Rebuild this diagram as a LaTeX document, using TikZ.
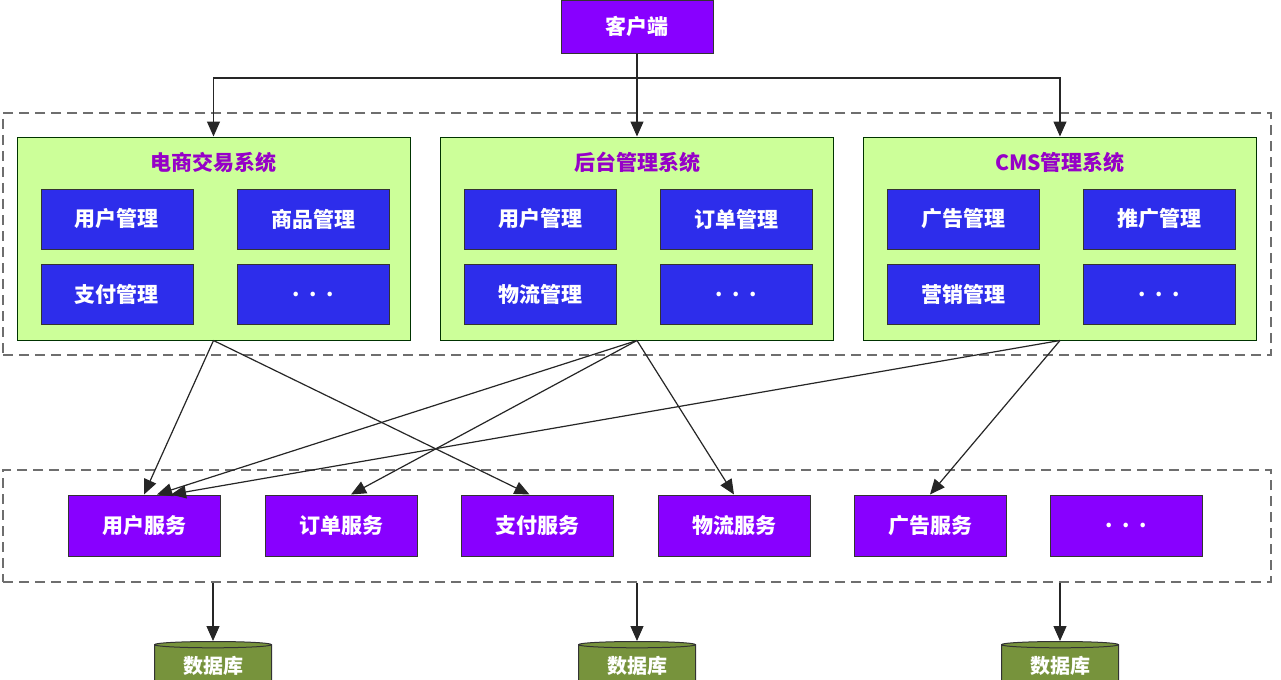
\documentclass[tikz,border=0pt]{standalone}
\usepackage{fontspec}
\setmainfont{Noto Sans CJK SC}
\usetikzlibrary{arrows.meta,shapes.geometric}
\definecolor{svcpurple}{RGB}{136,0,255}
\definecolor{modblue}{RGB}{45,45,235}
\definecolor{sysgreen}{RGB}{204,255,153}
\definecolor{titlepurple}{RGB}{150,0,200}
\definecolor{dbgreen}{RGB}{119,147,60}
\definecolor{dashgray}{RGB}{110,110,110}
\tikzset{
  base/.style={draw=black!80, line width=0.5pt, inner sep=0pt, font=\bfseries\fontsize{10.5}{12}\selectfont},
  purplebox/.style={base, fill=svcpurple, text=white, minimum width=76pt, minimum height=30.5pt},
  bluebox/.style={base, fill=modblue, text=white, minimum width=76pt, minimum height=30pt},
  sysbox/.style={draw=black!60!green!50!black, line width=0.5pt, fill=sysgreen, minimum width=196.5pt, minimum height=101.5pt, inner sep=0pt},
  systitle/.style={font=\bfseries\fontsize{10.5}{12}\selectfont, text=titlepurple, inner sep=0pt},
  layer/.style={draw=dashgray, dash pattern=on 5pt off 3pt, line width=0.8pt, inner sep=0pt},
  dbnode/.style={shape=cylinder, shape border rotate=90, aspect=0.1, draw=black!80, line width=0.5pt, fill=dbgreen, minimum width=58.5pt, minimum height=30pt, inner sep=0pt, font=\bfseries\fontsize{10.5}{12}\selectfont},
  dbtext/.style={text=white, inner sep=0pt, font=\bfseries\fontsize{10}{11}\selectfont},
  arr/.style={draw=black!85, line width=0.6pt, -{Triangle[length=7.5pt,width=6.5pt]}},
}
\begin{document}
\begin{tikzpicture}[x=0.5pt,y=-0.5pt]
\useasboundingbox (0,0) rectangle (1281,680);
\clip (0,0) rectangle (1281,680);
\fill[white] (0,0) rectangle (1281,680);
% layers
\node[layer, minimum width=634pt, minimum height=121pt] (layer1) at (637,234) {};
\node[layer, minimum width=634pt, minimum height=56pt] (layer2) at (637,526) {};
% client
\node[purplebox, minimum height=26.5pt] (client) at (637,26.5) {客户端};
% systems
\node[sysbox] (sys1) at (213.5,238.5) {};
\node[sysbox] (sys2) at (637,238.5) {};
\node[sysbox] (sys3) at (1060,238.5) {};
\node[systitle] (t1) at (213.5,162) {电商交易系统};
\node[systitle] (t2) at (637,162) {后台管理系统};
\node[systitle] (t3) at (1060,162) {CMS管理系统};
% modules
\node[bluebox] (m11) at (117,219) {用户管理};
\node[bluebox] (m12) at (313,219) {商品管理};
\node[bluebox] (m13) at (117,294.5) {支付管理};
\node[bluebox] (m14) at (313,294.5) {.\ \ .\ \ .};
\node[bluebox] (m21) at (540,219) {用户管理};
\node[bluebox] (m22) at (736.5,219) {订单管理};
\node[bluebox] (m23) at (540,294.5) {物流管理};
\node[bluebox] (m24) at (736.5,294.5) {.\ \ .\ \ .};
\node[bluebox] (m31) at (963,219) {广告管理};
\node[bluebox] (m32) at (1159,219) {推广管理};
\node[bluebox] (m33) at (963,294.5) {营销管理};
\node[bluebox] (m34) at (1159,294.5) {.\ \ .\ \ .};
% services
\node[purplebox] (s1) at (144,525.5) {用户服务};
\node[purplebox] (s2) at (341,525.5) {订单服务};
\node[purplebox] (s3) at (537.5,525.5) {支付服务};
\node[purplebox] (s4) at (734,525.5) {物流服务};
\node[purplebox] (s5) at (930,525.5) {广告服务};
\node[purplebox] (s6) at (1126,525.5) {.\ \ .\ \ .};
% databases
\node[dbnode, anchor=north] (db1) at (213,641) {\phantom{数据库}};
\node[dbnode, anchor=north] (db2) at (637,641) {\phantom{数据库}};
\node[dbnode, anchor=north] (db3) at (1060,641) {\phantom{数据库}};
\node[dbtext] (dbt1) at (213,666) {数据库};
\node[dbtext] (dbt2) at (637,666) {数据库};
\node[dbtext] (dbt3) at (1060,666) {数据库};
% client connectors
\coordinate (branch) at (637,78);
\draw[arr] (client.south) -- (sys2.north);
\draw[arr] (branch) -| (sys1.north);
\draw[arr] (branch) -| (sys3.north);
% system to service
\draw[arr] (sys1.south) -- (s1.north);
\draw[arr] (sys1.south) -- ([xshift=-4pt]s3.north);
\draw[arr] (sys2.south) -- ([xshift=6.5pt]s1.north);
\draw[arr] (sys2.south) -- ([xshift=5pt]s2.north);
\draw[arr] (sys2.south) -- (s4.north);
\draw[arr] (sys3.south) -- ([xshift=13.5pt]s1.north);
\draw[arr] (sys3.south) -- (s5.north);
% service layer to databases
\draw[arr] (layer2.south -| db1.north) -- (db1.north);
\draw[arr] (layer2.south -| db2.north) -- (db2.north);
\draw[arr] (layer2.south -| db3.north) -- (db3.north);
\end{tikzpicture}
\end{document}
